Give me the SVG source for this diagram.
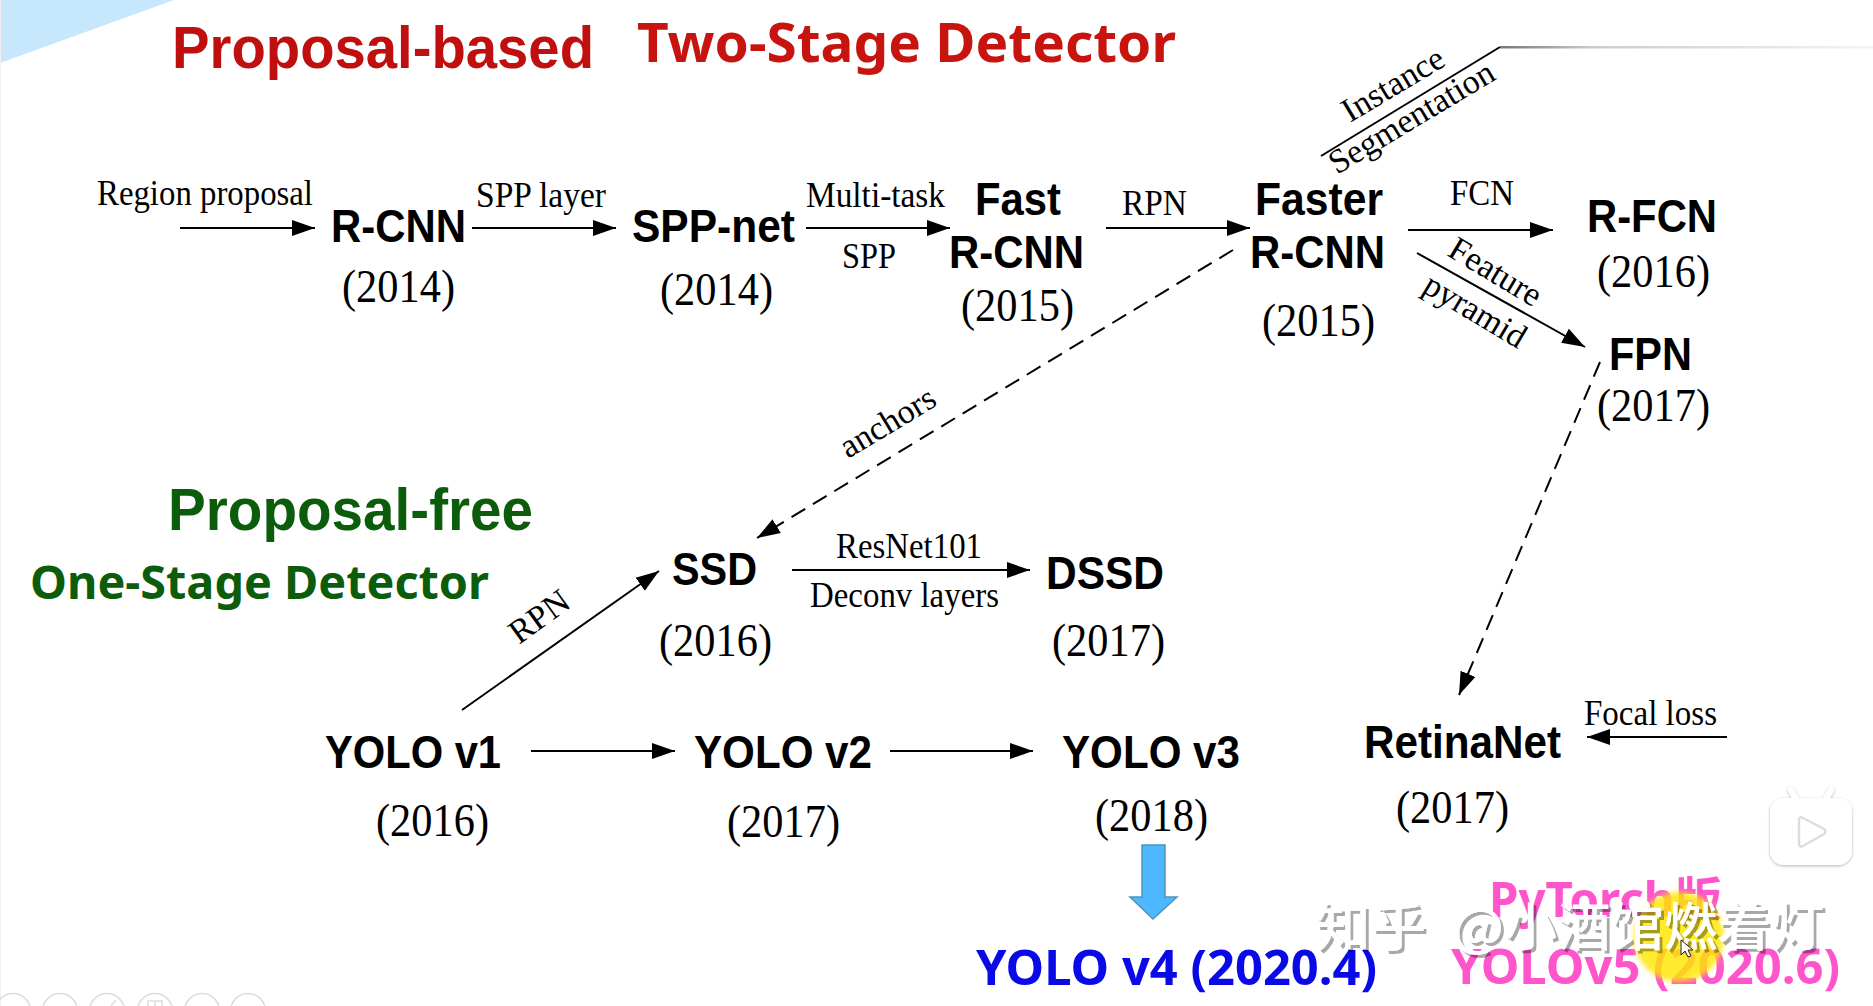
<svg xmlns="http://www.w3.org/2000/svg" width="1873" height="1006" viewBox="0 0 1873 1006">
<style>
.n{font-family:"Liberation Sans",Arial,sans-serif;font-weight:700;font-size:47px;fill:#000}
.y{font-family:"Liberation Serif","Times New Roman",serif;font-size:47px;fill:#000}
.l{font-family:"Liberation Serif","Times New Roman",serif;font-size:36px;fill:#000}
.r{font-family:"Liberation Serif","Times New Roman",serif;font-size:34px;fill:#000}
.ti{font-family:"Liberation Sans",Arial,sans-serif;font-weight:700;font-size:60px}
.tn{font-family:"Noto Sans","Noto Sans CJK SC",sans-serif;font-weight:700}
.w{font-family:"Noto Sans CJK SC",sans-serif;font-size:52px;font-weight:500;fill:#fff}
.c{fill:none;stroke:#000;stroke-width:2}
.d{stroke-dasharray:16 9}
.k{fill:none;stroke:#ddd;stroke-width:1.5}
</style>
<defs>
<marker id="a" markerUnits="userSpaceOnUse" markerWidth="24" markerHeight="18" refX="23" refY="9" orient="auto"><path d="M0 1L23 9L0 17z" fill="#000"/></marker>
<linearGradient id="fade" x1="0" x2="1" y1="0" y2="0"><stop offset="0" stop-color="#777"/><stop offset=".25" stop-color="#ccc"/><stop offset="1" stop-color="#f4f4f4"/></linearGradient>
<filter id="soft" x="-20%" y="-20%" width="140%" height="140%"><feGaussianBlur stdDeviation="2.5"/></filter>
<filter id="sh" x="-20%" y="-20%" width="140%" height="140%"><feDropShadow dx="0" dy="1" stdDeviation="1.5" flood-color="#000" flood-opacity=".3"/></filter>
<filter id="wm" x="-5%" y="-20%" width="110%" height="140%"><feOffset in="SourceAlpha" dx="3" dy="3" result="o"/><feFlood flood-color="#000" flood-opacity=".34"/><feComposite in2="o" operator="in" result="s"/><feMerge><feMergeNode in="s"/><feMergeNode in="SourceGraphic"/></feMerge></filter>
</defs>
<rect width="1873" height="1006" fill="#fff"/>
<path d="M0 0H174L0 63z" fill="#c6e7fc"/>
<path d="M.5 0V1006" stroke="#efefef" stroke-width="1"/>

<g id="bottom-controls">
<circle class="k" cx="13" cy="1011" r="17.5"/><circle class="k" cx="60" cy="1011" r="17.5"/><circle class="k" cx="107" cy="1011" r="17.5"/><circle class="k" cx="155" cy="1011" r="17.5"/><circle class="k" cx="202" cy="1011" r="17.5"/><circle class="k" cx="248" cy="1011" r="17.5"/>
<path class="k" d="M148 1006V1001H162V1006M155 1001V1006M111 1006L116 1000"/>
</g>

<g id="titles">
<text class="ti" x="172" y="68" fill="#c00f0f" textLength="422" lengthAdjust="spacingAndGlyphs">Proposal-based</text>
<text class="tn" x="637" y="62" font-size="54" fill="#c8140f" textLength="539" lengthAdjust="spacingAndGlyphs">Two-Stage Detector</text>
<text class="ti" x="168" y="530" fill="#0b5c0b" textLength="365" lengthAdjust="spacingAndGlyphs">Proposal-free</text>
<text class="tn" x="30" y="599" font-size="46" fill="#0b5c0b" textLength="459" lengthAdjust="spacingAndGlyphs">One-Stage Detector</text>
</g>

<g id="connectors">
<line class="c" x1="180" y1="228" x2="315" y2="228" marker-end="url(#a)"/>
<line class="c" x1="472" y1="228" x2="616" y2="228" marker-end="url(#a)"/>
<line class="c" x1="806" y1="228" x2="950" y2="228" marker-end="url(#a)"/>
<line class="c" x1="1106" y1="228" x2="1250" y2="228" marker-end="url(#a)"/>
<line class="c" x1="1408" y1="230" x2="1553" y2="230" marker-end="url(#a)"/>
<line class="c" x1="1417" y1="253" x2="1585" y2="347" marker-end="url(#a)"/>
<line class="c" x1="1321" y1="156" x2="1500" y2="47"/>
<rect x="1500" y="46" width="373" height="2.5" fill="url(#fade)"/>
<line class="c d" x1="1233" y1="250" x2="757" y2="538" marker-end="url(#a)"/>
<line class="c d" x1="1600" y1="362" x2="1459" y2="695" marker-end="url(#a)"/>
<line class="c" x1="462" y1="710" x2="659" y2="571" marker-end="url(#a)"/>
<line class="c" x1="792" y1="570" x2="1030" y2="570" marker-end="url(#a)"/>
<line class="c" x1="531" y1="751" x2="675" y2="751" marker-end="url(#a)"/>
<line class="c" x1="890" y1="751" x2="1033" y2="751" marker-end="url(#a)"/>
<line class="c" x1="1727" y1="737" x2="1587" y2="737" marker-end="url(#a)"/>
<path d="M1142 845H1165V897H1177L1153 919L1130 897H1142z" fill="#4db8ff" stroke="#4f94b8" stroke-width="1.5"/>
<g id="connector-labels">
<text class="l" x="97" y="205" textLength="216" lengthAdjust="spacingAndGlyphs">Region proposal</text>
<text class="l" x="476" y="207" textLength="130" lengthAdjust="spacingAndGlyphs">SPP layer</text>
<text class="l" x="806" y="207" textLength="139" lengthAdjust="spacingAndGlyphs">Multi-task</text>
<text class="l" x="842" y="268" textLength="54" lengthAdjust="spacingAndGlyphs">SPP</text>
<text class="l" x="1122" y="215" textLength="65" lengthAdjust="spacingAndGlyphs">RPN</text>
<text class="l" x="1450" y="205" textLength="64" lengthAdjust="spacingAndGlyphs">FCN</text>
<text class="r" transform="translate(1446 255) rotate(31)">Feature</text>
<text class="r" transform="translate(1421 291) rotate(31)">pyramid</text>
<text class="r" transform="translate(1350 123) rotate(-31)">Instance</text>
<text class="r" transform="translate(1337 175) rotate(-31)">Segmentation</text>
<text class="r" transform="translate(848 459) rotate(-31)">anchors</text>
<text class="r" transform="translate(519 645) rotate(-36)">RPN</text>
<text class="l" x="836" y="558" textLength="146" lengthAdjust="spacingAndGlyphs">ResNet101</text>
<text class="l" x="810" y="607" textLength="189" lengthAdjust="spacingAndGlyphs">Deconv layers</text>
<text class="l" x="1584" y="725" textLength="133" lengthAdjust="spacingAndGlyphs">Focal loss</text>
</g>
</g>

<g id="rcnn"><text class="n" x="331" y="242" textLength="135" lengthAdjust="spacingAndGlyphs">R-CNN</text><text class="y" x="342" y="302" textLength="113" lengthAdjust="spacingAndGlyphs">(2014)</text></g>
<g id="sppnet"><text class="n" x="632" y="242" textLength="163" lengthAdjust="spacingAndGlyphs">SPP-net</text><text class="y" x="660" y="305" textLength="113" lengthAdjust="spacingAndGlyphs">(2014)</text></g>
<g id="fast-rcnn"><text class="n" x="975" y="215" textLength="86" lengthAdjust="spacingAndGlyphs">Fast</text><text class="n" x="949" y="268" textLength="135" lengthAdjust="spacingAndGlyphs">R-CNN</text><text class="y" x="961" y="321" textLength="113" lengthAdjust="spacingAndGlyphs">(2015)</text></g>
<g id="faster-rcnn"><text class="n" x="1255" y="215" textLength="128" lengthAdjust="spacingAndGlyphs">Faster</text><text class="n" x="1250" y="268" textLength="135" lengthAdjust="spacingAndGlyphs">R-CNN</text><text class="y" x="1262" y="336" textLength="113" lengthAdjust="spacingAndGlyphs">(2015)</text></g>
<g id="rfcn"><text class="n" x="1587" y="232" textLength="130" lengthAdjust="spacingAndGlyphs">R-FCN</text><text class="y" x="1597" y="287" textLength="113" lengthAdjust="spacingAndGlyphs">(2016)</text></g>
<g id="fpn"><text class="n" x="1609" y="370" textLength="83" lengthAdjust="spacingAndGlyphs">FPN</text><text class="y" x="1597" y="421" textLength="113" lengthAdjust="spacingAndGlyphs">(2017)</text></g>
<g id="ssd"><text class="n" x="672" y="585" textLength="85" lengthAdjust="spacingAndGlyphs">SSD</text><text class="y" x="659" y="656" textLength="113" lengthAdjust="spacingAndGlyphs">(2016)</text></g>
<g id="dssd"><text class="n" x="1046" y="589" textLength="118" lengthAdjust="spacingAndGlyphs">DSSD</text><text class="y" x="1052" y="656" textLength="113" lengthAdjust="spacingAndGlyphs">(2017)</text></g>
<g id="yolov1"><text class="n" x="325" y="768" textLength="176" lengthAdjust="spacingAndGlyphs">YOLO v1</text><text class="y" x="376" y="836" textLength="113" lengthAdjust="spacingAndGlyphs">(2016)</text></g>
<g id="yolov2"><text class="n" x="694" y="768" textLength="178" lengthAdjust="spacingAndGlyphs">YOLO v2</text><text class="y" x="727" y="837" textLength="113" lengthAdjust="spacingAndGlyphs">(2017)</text></g>
<g id="yolov3"><text class="n" x="1062" y="768" textLength="178" lengthAdjust="spacingAndGlyphs">YOLO v3</text><text class="y" x="1095" y="831" textLength="113" lengthAdjust="spacingAndGlyphs">(2018)</text></g>
<g id="retinanet"><text class="n" x="1364" y="758" textLength="197" lengthAdjust="spacingAndGlyphs">RetinaNet</text><text class="y" x="1396" y="823" textLength="113" lengthAdjust="spacingAndGlyphs">(2017)</text></g>
<g id="yolov4"><text class="tn" x="976" y="985" font-size="48" fill="#0a0ae6" textLength="401" lengthAdjust="spacingAndGlyphs">YOLO v4 (2020.4)</text></g>
<g id="yolov5"><text class="tn" x="1489" y="917" font-size="48" fill="#ff55cc" textLength="233" lengthAdjust="spacingAndGlyphs">PyTorch版</text><text class="tn" x="1451" y="984" font-size="48" fill="#ff55cc" textLength="389" lengthAdjust="spacingAndGlyphs">YOLOv5 (2020.6)</text></g>

<g id="overlay">
<circle cx="1679" cy="937" r="45" fill="#ffe600" fill-opacity=".82" filter="url(#soft)"/>
<text class="w" x="1315" y="946" filter="url(#wm)" textLength="111" lengthAdjust="spacingAndGlyphs">知乎</text>
<text class="w" x="1452" y="946" filter="url(#wm)" textLength="372" lengthAdjust="spacingAndGlyphs">@小酒馆燃着灯</text>
<path d="M1681 940V955L1685 951L1688 957L1691 956L1688 950H1693z" fill="#fff" stroke="#222" stroke-width="1"/>
<g id="video-badge" filter="url(#sh)">
<path d="M1796 799L1791 790M1826 799L1831 790" stroke="#fff" stroke-width="6" stroke-linecap="round"/>
<rect x="1770" y="798" width="82" height="67" rx="14" fill="#fff"/>
</g>
<path d="M1799 820Q1799 816 1803 818L1824 829Q1827 832 1824 834L1803 846Q1799 848 1799 843z" fill="#fff" stroke="#ddd" stroke-width="2.5"/>
</g>
</svg>
